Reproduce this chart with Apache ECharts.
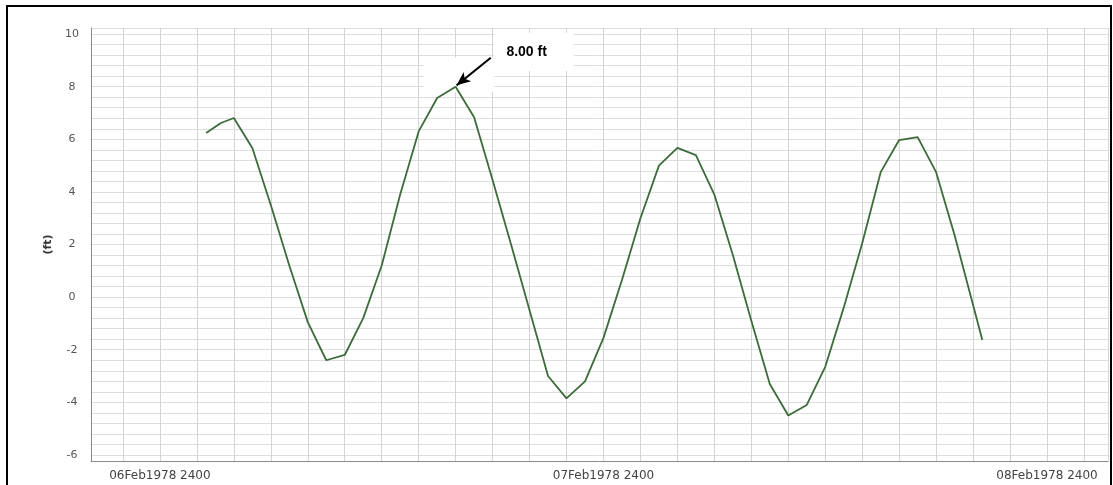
<!DOCTYPE html>
<html>
<head>
<meta charset="utf-8">
<script src="https://cdn.jsdelivr.net/npm/echarts@6/dist/echarts.min.js"></script>
<style>
  html, body { margin: 0; padding: 0; background: #fff; }
  #chart { width: 1113px; height: 485px; }
</style>
</head>
<body>
<div id="chart"></div>
<script>
// hours after 06Feb1978 2400
var hours = [2.5, 3.3, 4, 5, 6, 7, 8, 9, 10, 11, 12, 13, 14, 15, 16, 17, 18, 19, 20, 21, 22, 23, 24, 25,
  26, 27, 28, 29, 30, 31, 32, 33, 34, 35, 36, 37, 38, 39, 40, 41, 42, 43, 44, 44.5];
// stage (ft)
var levels = [6.24, 6.62, 6.81, 5.67, 3.5, 1.2, -0.95, -2.4, -2.2, -0.8, 1.2, 3.9, 6.3, 7.57, 8.0, 6.84,
  4.45, 2.0, -0.5, -3.0, -3.85, -3.2, -1.55, 0.65, 3.0, 5.0, 5.67, 5.4, 3.9, 1.6, -0.9, -3.3, -4.5, -4.1,
  -2.65, -0.4, 2.05, 4.75, 5.97, 6.08, 4.75, 2.35, -0.3, -1.63];
var dayLabels = ['06Feb1978 2400', '07Feb1978 2400', '08Feb1978 2400'];
var peak = [16, 8.0];
var peakText = '8.00 ft';

var chart = echarts.init(document.getElementById('chart'));

var seriesData = hours.map(function (h, i) { return [h, levels[i]]; });

var option = {
  animation: false,
  backgroundColor: '#fff',
  grid: {
    left: 91,
    right: 5,
    top: 28,
    bottom: 24,
    containLabel: false,
    outerBoundsMode: 'none'
  },
  xAxis: {
    type: 'value',
    min: -3.73,
    max: 51.3,
    minInterval: 2,
    maxInterval: 2,
    splitNumber: 27,
    axisLine: { show: true, onZero: false, lineStyle: { color: '#8a8a8a', width: 1 } },
    axisTick: { show: false },
    splitLine: { show: true, lineStyle: { color: '#d4d4d4', width: 1 } },
    axisLabel: {
      margin: 9,
      color: '#444',
      fontSize: 12,
      fontFamily: 'DejaVu Sans',
      showMinLabel: true,
      showMaxLabel: true,
      formatter: function (v) {
        var d = Math.round(v / 24);
        if (Math.abs(v - d * 24) < 1e-6 && d >= 0 && d < dayLabels.length) return dayLabels[d];
        return '';
      }
    }
  },
  yAxis: {
    type: 'value',
    min: -6.23,
    max: 10.23,
    minInterval: 0.4,
    maxInterval: 0.4,
    splitNumber: 40,
    name: '(ft)',
    nameLocation: 'middle',
    nameRotate: 90,
    nameGap: 33,
    nameTextStyle: { color: '#333', fontSize: 11, fontWeight: 'bold', fontFamily: 'DejaVu Sans' },
    axisLine: { show: true, onZero: false, lineStyle: { color: '#8a8a8a', width: 1 } },
    axisTick: { show: false },
    splitLine: { show: true, lineStyle: { color: '#dedede', width: 1 } },
    axisLabel: {
      margin: 19,
      align: 'center',
      color: '#555',
      fontSize: 11,
      fontFamily: 'DejaVu Sans',
      formatter: function (v) {
        var r = Math.round(v / 2) * 2;
        if (Math.abs(v - r) < 1e-6) return String(r);
        return '';
      }
    }
  },
  series: [{
    type: 'line',
    data: seriesData,
    showSymbol: false,
    symbol: 'none',
    lineStyle: { color: '#3d6b3a', width: 1.8 },
    markArea: {
      silent: true,
      itemStyle: { color: '#fff', opacity: 1 },
      data: [
        [{ coord: [18.1, 10.05] }, { coord: [22.4, 8.6] }],
        [{ coord: [14.3, 9.1] }, { coord: [18.1, 7.8] }]
      ]
    },
    markLine: {
      silent: true,
      symbol: ['none', 'arrow'],
      symbolSize: [9, 14],
      label: { show: false },
      lineStyle: { color: '#000', width: 2, type: 'solid' },
      data: [
        [{ coord: [17.9, 9.1] }, { coord: [peak[0] + 0.05, peak[1] + 0.05] }]
      ]
    },
    markPoint: {
      silent: true,
      symbol: 'circle',
      symbolSize: 0,
      label: {
        show: true,
        formatter: peakText,
        offset: [71, -35],
        color: '#000',
        fontSize: 14,
        fontWeight: 'bold',
        fontFamily: 'Liberation Sans'
      },
      data: [{ coord: peak }]
    }
  }],
  graphic: [{
    type: 'rect',
    shape: { x: 7, y: 6, width: 1104, height: 500 },
    style: { fill: null, stroke: '#000', lineWidth: 2 },
    silent: true,
    z: 100
  }]
};

chart.setOption(option);
</script>
</body>
</html>
